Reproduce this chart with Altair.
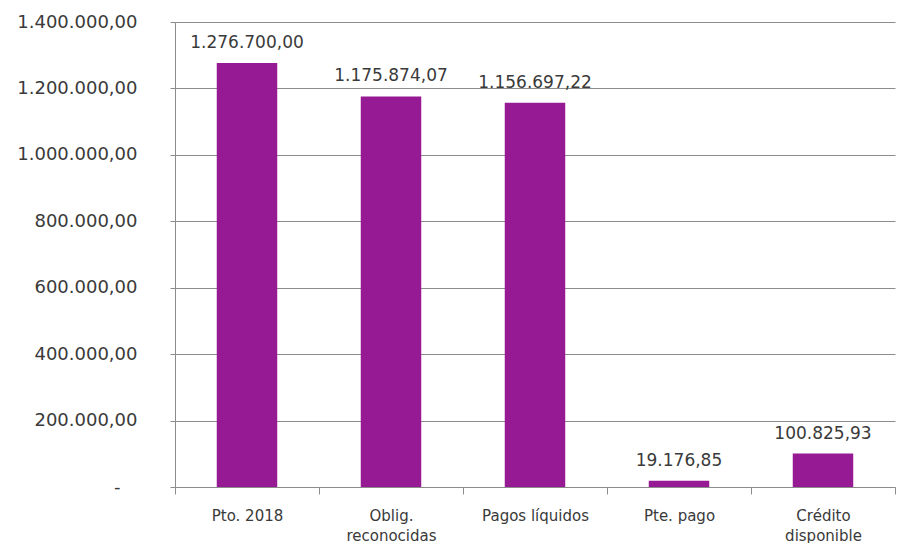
import altair as alt
import pandas as pd

categories = ["Pto. 2018", "Oblig.|reconocidas", "Pagos líquidos", "Pte. pago", "Crédito|disponible"]
values = [1276700.00, 1175874.07, 1156697.22, 19176.85, 100825.93]
value_labels = ["1.276.700,00", "1.175.874,07", "1.156.697,22", "19.176,85", "100.825,93"]

df = pd.DataFrame({"cat": categories, "val": values, "lab": value_labels})

FONT = "DejaVu Sans"
PURPLE = "#961A93"
GRID = "#8C8C8C"
TXT = "#3A3A3A"

x = alt.X(
    "cat:N",
    sort=categories,
    title=None,
    scale=alt.Scale(paddingInner=0, paddingOuter=0),
    axis=alt.Axis(
        labelExpr="split(datum.label, '|')",
        labelAngle=0,
        labelFont=FONT,
        labelFontSize=15,
        labelColor=TXT,
        labelPadding=14,
        labelLineHeight=20,
        tickBand="extent",
        tickSize=7,
        tickColor=GRID,
        domainColor=GRID,
        grid=False,
    ),
)

y_axis = alt.Axis(
    values=[0, 200000, 400000, 600000, 800000, 1000000, 1200000, 1400000],
    labelExpr="datum.value == 0 ? '-' : replace(replace(replace(format(datum.value, ',.2f'), /,/g, '_'), /\\./g, ','), /_/g, '.')",
    labelFont=FONT,
    labelFontSize=18,
    labelColor=TXT,
    labelPadding={"condition": {"test": "datum.value === 0", "value": 50}, "value": 33},
    tickSize=5,
    tickColor=GRID,
    domainColor=GRID,
    gridColor=GRID,
    title=None,
)

y = alt.Y("val:Q", scale=alt.Scale(domain=[0, 1400000], nice=False), axis=y_axis)

bars = alt.Chart(df).mark_bar(color=PURPLE, width=alt.RelativeBandSize(0.42)).encode(x=x, y=y)
text = alt.Chart(df).mark_text(
    baseline="bottom", dy=-11, font=FONT, fontSize=17, color=TXT
).encode(x=alt.X("cat:N", sort=categories), y="val:Q", text="lab:N")

chart = (
    alt.layer(bars, text)
    .properties(
        width=720,
        height=465,
        autosize=alt.AutoSizeParams(type="none"),
        padding={"left": 167, "top": 14, "right": 6, "bottom": 56},
        background="white",
    )
    .configure_view(stroke=None)
)

chart.save("out.html", embed_options={"renderer": "svg", "actions": False})
